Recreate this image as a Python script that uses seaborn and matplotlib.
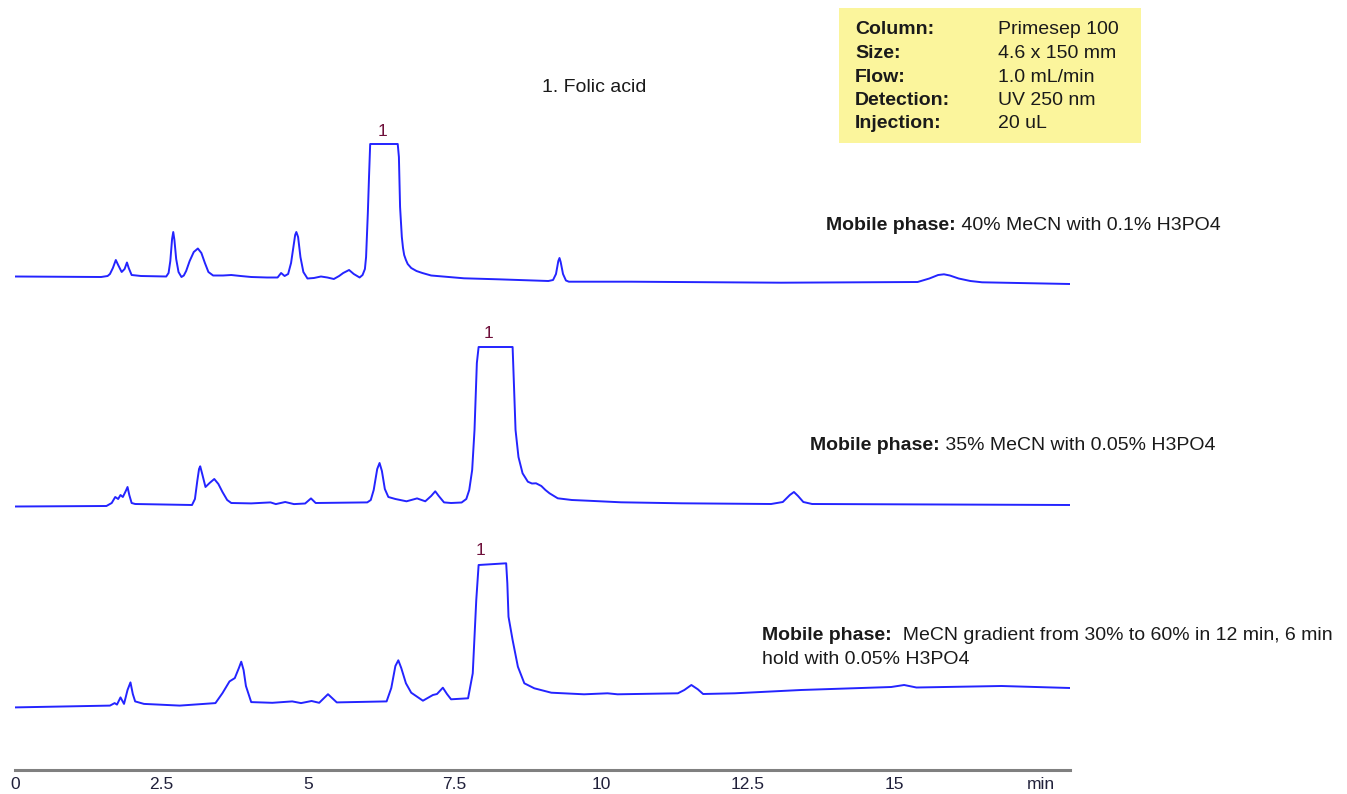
import numpy as np
import pandas as pd
import seaborn as sns
import matplotlib.pyplot as plt
from matplotlib.patches import Rectangle

# Chromatogram traces (time in min, signal in arbitrary units)
time_40 = [0.00, 1.47, 1.58, 1.62, 1.67, 1.72, 1.76, 1.82, 1.87, 1.91, 1.94, 1.99, 2.15,
           2.58, 2.62, 2.65, 2.68, 2.70, 2.72, 2.75, 2.79, 2.84, 2.88, 2.92, 2.98, 3.05,
           3.12, 3.18, 3.24, 3.30, 3.38, 3.55, 3.69, 3.85, 4.03, 4.30, 4.48, 4.54, 4.60, 4.66,
           4.71, 4.75, 4.78, 4.80, 4.83, 4.87, 4.92, 4.99, 5.10, 5.22, 5.33, 5.44, 5.53, 5.60,
           5.70, 5.78, 5.88, 5.93, 5.97, 5.99, 6.02, 6.04, 6.06, 6.53, 6.55, 6.57, 6.60,
           6.62, 6.64, 6.67, 6.70, 6.76, 6.85, 6.95, 7.10, 7.40, 7.66, 8.24, 9.10, 9.18,
           9.23, 9.27, 9.29, 9.31, 9.35, 9.40, 9.45, 10.51, 13.07, 15.40, 15.60, 15.75,
           15.85, 15.95, 16.10, 16.30, 16.50, 18.00]
signal_40 = [0.5, 0.0, 1.0, 3.0, 9.0, 17.0, 12.0, 5.0, 8.0, 14.5, 9.0, 2.0, 1.0,
             0.5, 4.0, 16.0, 38.0, 45.0, 37.0, 18.0, 5.0, 0.0, 1.5, 6.0, 16.0, 25.0,
             28.5, 24.0, 14.0, 5.0, 1.5, 1.5, 2.0, 1.0, 0.0, -0.5, -0.5, 4.0, 1.0, 3.0,
             14.0, 30.0, 42.0, 45.0, 40.0, 20.0, 5.0, -1.5, -1.0, 0.5, -0.5, -2.0, 1.0, 4.0,
             7.0, 3.0, -0.5, 2.0, 8.0, 20.0, 64.0, 100.0, 133.0, 133.0, 120.0, 70.0, 40.0,
             29.0, 22.0, 17.0, 13.0, 9.0, 6.0, 4.0, 1.5, 0.0, -1.3, -2.3, -4.0, -3.0,
             3.0, 16.0, 19.0, 15.0, 3.0, -3.5, -4.7, -4.7, -5.7, -5.0, -1.5, 2.0,
             2.7, 1.5, -1.5, -4.0, -5.3, -7.0]

time_35 = [0.00, 1.56, 1.65, 1.71, 1.76, 1.80, 1.84, 1.89, 1.92, 1.95, 1.99, 2.05,
           3.02, 3.07, 3.11, 3.14, 3.16, 3.19, 3.25, 3.32, 3.40, 3.47, 3.54, 3.62, 3.69,
           4.03, 4.36, 4.45, 4.61, 4.76, 4.95, 5.05, 5.13, 6.01, 6.07, 6.12, 6.18,
           6.22, 6.26, 6.31, 6.37, 6.49, 6.68, 6.86, 7.00, 7.10, 7.17, 7.23, 7.32,
           7.44, 7.62, 7.70, 7.75, 7.80, 7.84, 7.88, 7.91, 8.49, 8.51, 8.54, 8.59, 8.66,
           8.75, 8.82, 8.89, 8.98, 9.05, 9.12, 9.26, 9.50, 9.77, 10.34, 11.37, 12.90,
           13.10, 13.22, 13.29, 13.36, 13.45, 13.60, 18.00]
signal_35 = [-1.5, -1.0, 2.0, 8.0, 6.0, 10.0, 8.0, 14.0, 18.0, 10.0, 2.0, 1.0,
             0.0, 6.0, 24.0, 36.0, 38.7, 32.0, 18.0, 22.0, 26.0, 21.0, 13.0, 5.0, 2.0,
             1.6, 2.6, 0.9, 3.0, 0.9, 1.5, 6.6, 2.0, 2.6, 5.0, 15.0, 36.0,
             42.0, 34.0, 16.0, 8.0, 6.0, 3.7, 6.6, 3.7, 9.0, 13.7, 9.0, 2.6,
             2.0, 2.5, 6.0, 15.0, 35.0, 75.0, 142.0, 158.0, 158.0, 125.0, 75.0, 48.0, 31.7,
             23.3, 21.5, 21.7, 19.0, 15.0, 11.7, 6.7, 5.0, 4.3, 2.7, 1.7, 1.0,
             3.0, 10.0, 13.0, 9.0, 3.0, 1.0, 0.0]

time_grad = [0.00, 1.62, 1.70, 1.74, 1.80, 1.86, 1.92, 1.97, 2.01, 2.05, 2.20, 2.81,
             3.42, 3.54, 3.66, 3.75, 3.82, 3.86, 3.90, 3.94, 4.03, 4.39, 4.73, 4.88,
             5.06, 5.19, 5.34, 5.49, 6.34, 6.42, 6.49, 6.54, 6.59, 6.67, 6.76, 6.96,
             7.13, 7.20, 7.30, 7.37, 7.44, 7.73, 7.81, 7.87, 7.91, 8.38, 8.40, 8.42,
             8.49, 8.58, 8.69, 8.86, 9.15, 9.71, 10.11, 10.28, 11.31, 11.42, 11.54,
             11.65, 11.74, 12.28, 13.41, 14.44, 14.95, 15.17, 15.38, 16.83, 18.00]
signal_grad = [0.6, 2.4, 4.9, 3.4, 10.6, 4.1, 18.0, 25.6, 14.0, 6.6, 4.1, 2.4,
               4.9, 14.9, 26.6, 29.9, 40.0, 46.3, 38.0, 22.0, 5.9, 5.2, 6.6, 4.9,
               7.0, 5.2, 13.8, 5.6, 6.6, 20.0, 42.0, 47.7, 40.0, 24.7, 15.3, 7.3,
               13.0, 14.0, 20.3, 14.0, 8.7, 9.7, 34.7, 108.0, 143.0, 144.7, 124.7, 91.3,
               68.0, 41.3, 24.7, 19.7, 15.3, 13.7, 14.7, 13.7, 14.7, 18.0, 23.0,
               18.7, 14.0, 14.7, 18.0, 20.0, 21.0, 23.0, 20.5, 22.0, 20.0]

peak_label_times = [6.27, 8.08, 7.95]
peak_tops = [133.0, 158.0, 144.7]

mobile_phase_bold = "Mobile phase:"
mobile_phase_text = [" 40% MeCN with 0.1% H3PO4",
                     " 35% MeCN with 0.05% H3PO4",
                     "  MeCN gradient from 30% to 60% in 12 min, 6 min\nhold with 0.05% H3PO4"]

info_keys = ["Column:", "Size:", "Flow:", "Detection:", "Injection:"]
info_values = ["Primesep 100", "4.6 x 150 mm", "1.0 mL/min", "UV 250 nm", "20 uL"]

tick_values = [0, 2.5, 5, 7.5, 10, 12.5, 15, 17.5]
tick_labels = ["0", "2.5", "5", "7.5", "10", "12.5", "15", "min"]

W, H = 1347, 794
BLUE = "#2424ff"
TEXT = "#1a1a1a"
FS = 14

sns.set_style("white")
plt.rcParams['font.family'] = ['Liberation Sans', 'DejaVu Sans']

fig = plt.figure(figsize=(W / 100, H / 100), dpi=100)
# axes bottom sits on the time axis, y units are pixels above it
ax = fig.add_axes([15 / W, 24 / H, 1055 / W, 770 / H])

traces = pd.concat([
    pd.DataFrame({'time': time_40, 'signal': signal_40, 'run': 'iso40'}),
    pd.DataFrame({'time': time_35, 'signal': signal_35, 'run': 'iso35'}),
    pd.DataFrame({'time': time_grad, 'signal': signal_grad, 'run': 'grad'}),
])
offsets = {'iso40': 493, 'iso35': 265, 'grad': 62}
traces['y'] = traces['signal'] + traces['run'].map(offsets)

for run in ['iso40', 'iso35', 'grad']:
    sub = traces[traces['run'] == run]
    sns.lineplot(data=sub, x='time', y='y', ax=ax, color=BLUE,
                 linewidth=1.4, estimator=None, sort=False,
                 solid_joinstyle='round', solid_capstyle='round')

# peak labels
for run, t, top in zip(['iso40', 'iso35', 'grad'], peak_label_times, peak_tops):
    ax.text(t, offsets[run] + top + 13, "1", ha='center', va='center',
            fontsize=12.5, color='#6e0f3a')

ax.set_xlim(0, 18)
ax.set_ylim(0, 770)
ax.set_xlabel("")
ax.set_ylabel("")
ax.set_yticks([])
ax.set_xticks(tick_values)
ax.set_xticklabels(tick_labels)
for side in ['top', 'left', 'right']:
    ax.spines[side].set_visible(False)
ax.spines['bottom'].set_color('#808080')
ax.spines['bottom'].set_linewidth(2.2)
ax.tick_params(axis='x', direction='out', length=4, width=1, color='#555555',
               labelsize=12.5, labelcolor='#20203a', pad=1)
ax.patch.set_alpha(0)


def fxy(x, y):
    return x / W, 1 - y / H


# compound legend
fig.text(*fxy(594, 88), "1. Folic acid", ha='center', va='center',
         fontsize=FS, color=TEXT)

# conditions box
fig.patches.append(Rectangle(fxy(839, 143), 302 / W, 135 / H,
                             transform=fig.transFigure, facecolor='#fbf59c',
                             edgecolor='none', zorder=0))
for i, (k, v) in enumerate(zip(info_keys, info_values)):
    yy = 30 + i * 23.5
    fig.text(*fxy(855, yy), k, ha='left', va='center', fontsize=FS,
             fontweight='bold', color=TEXT)
    fig.text(*fxy(998, yy), v, ha='left', va='center', fontsize=FS,
             color=TEXT)

# mobile phase captions
caption_pos = [(826, 226), (810, 445), (762, 635)]
for (cx, cy), rest in zip(caption_pos, mobile_phase_text):
    b = fig.text(*fxy(cx, cy), mobile_phase_bold, ha='left', va='center',
                 fontsize=FS, fontweight='bold', color=TEXT)
    first, *more = rest.split("\n")
    ax.annotate(first, xy=(1, 0), xycoords=b, ha='left', va='bottom',
                fontsize=FS, color=TEXT)
    for j, line in enumerate(more):
        fig.text(*fxy(cx, cy + 24 * (j + 1)), line, ha='left', va='center',
                 fontsize=FS, color=TEXT)

fig.savefig("out.png", dpi=100)
